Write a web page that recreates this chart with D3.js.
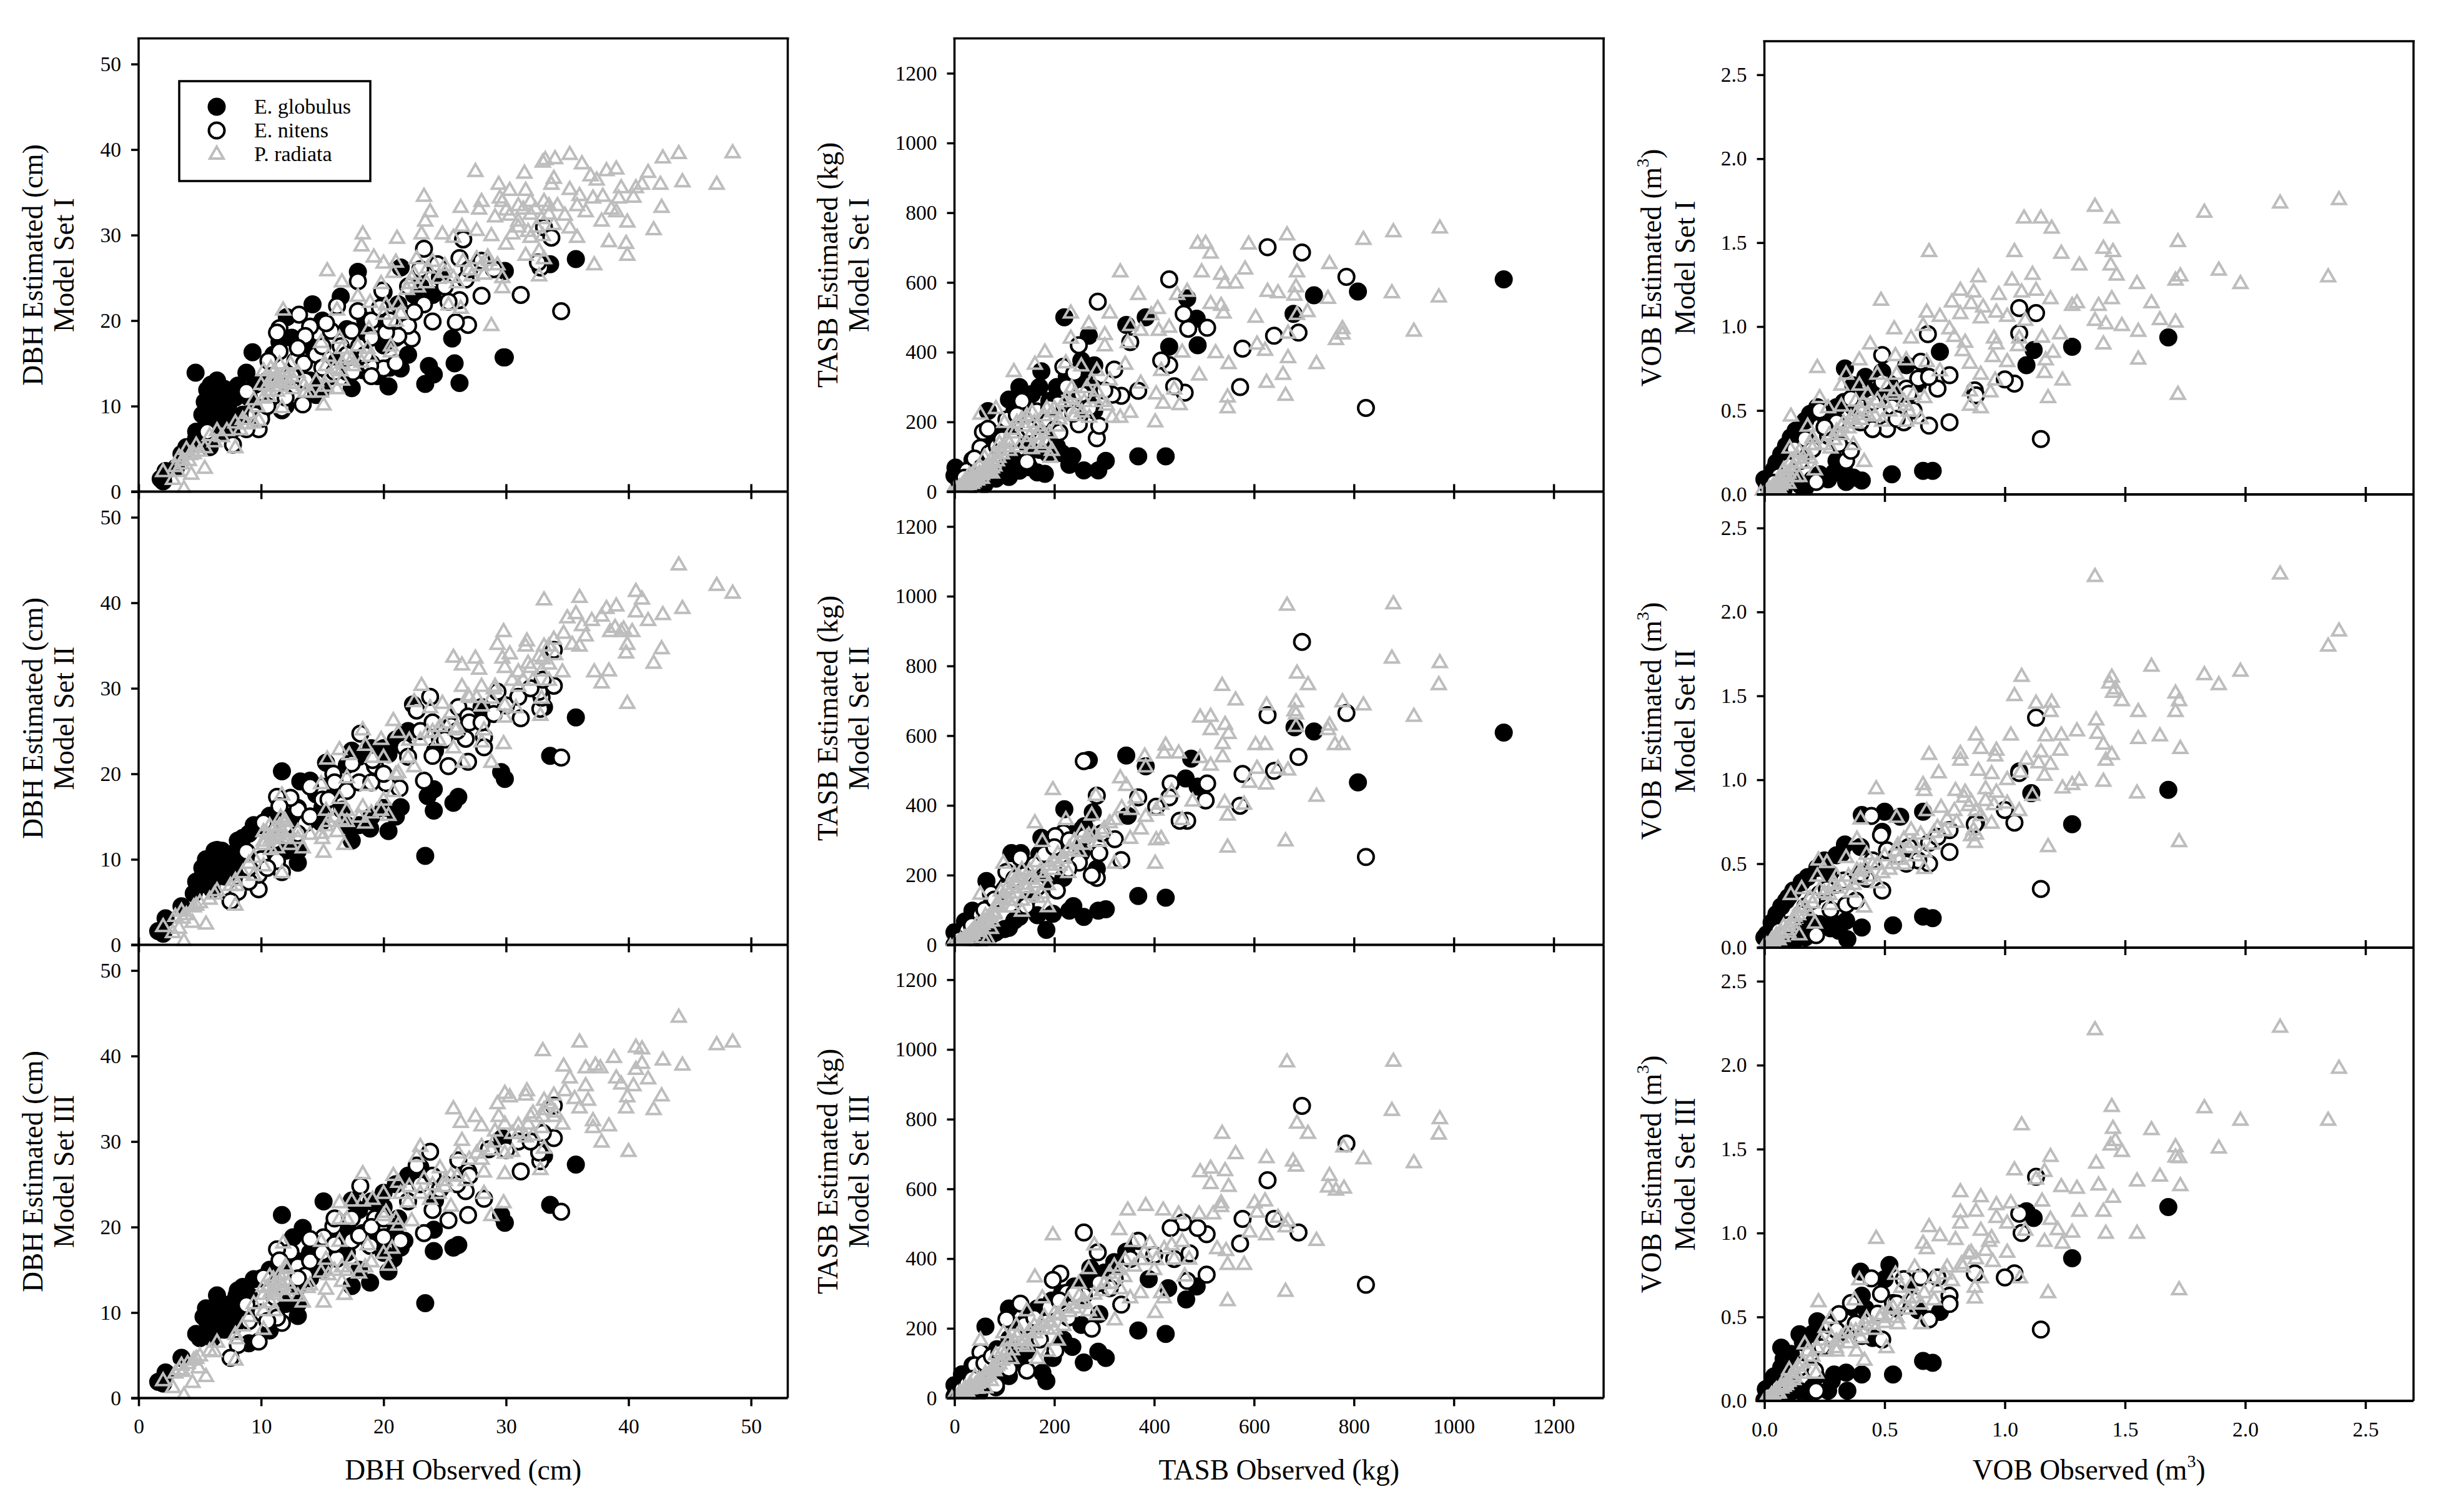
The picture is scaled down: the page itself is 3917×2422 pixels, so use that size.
<!DOCTYPE html>
<html><head><meta charset="utf-8"><script src="https://cdn.jsdelivr.net/npm/d3@7"></script>
<style>html,body{margin:0;padding:0;background:#fff}text{font-family:"Liberation Serif","Times New Roman",serif;fill:#000}</style></head>
<body><svg id="c" width="3917" height="2422"></svg>
<script>
const species=["E. globulus","E. nitens","P. radiata"];
const setNames=["Model Set I","Model Set II","Model Set III"];
const dbhTicks=[0,10,20,30,40,50], tasbTicks=[0,200,400,600,800,1000,1200], vobTicks=[0,0.5,1,1.5,2,2.5];

const dbhGlob1=[[4.65,13.9],[5.6,11.9],[6.4,13],[6,10.6],[6.6,11.7],[6.2,9.5],[7.3,9.9],[6.9,8.8],[8.1,12.4],[7.9,11],[4.7,7],[4.7,6.2],[3.5,4.4],[3.9,5.2],[5.8,5.2],[2,1.2],[1.8,1.5],[2.2,2.4],[3.05,2.8],[9.3,16.3],[8.8,13.9],[11.5,17.5],[12.1,20.4],[14.2,21.9],[16.5,22.8],[17.9,25.7],[17.4,12.1],[20.4,12.3],[21.4,14.4],[23.4,12.6],[23.7,14.7],[24.1,13.7],[25.8,15],[25.6,17.9],[26.2,12.7],[29.8,15.7],[29.9,15.7],[35.7,27.2],[33.6,26.6],[29.9,25.8],[26.5,29.5],[21.4,26.2],[24.6,25.1],[20,23.3],[21.2,21.9],[20,17.1],[18.3,18.6],[18.3,14.2],[16.2,15.3],[14.5,11.3],[11.7,9.5],[7,7],[8,7.5],[5.2,9],[9.5,12.5],[20.5,14.5],[13,17],[5.4,10.5],[5.9,12.5],[6.3,11],[6.8,10.5],[7,12],[7.5,9],[5.5,8.5],[6,8],[6.5,7.5],[7.5,7],[8.5,9],[9,11],[9.5,10],[10,9],[10.5,13],[12,10],[13,14],[14,13],[15,12],[15.5,14],[17,14],[18,16],[19,15],[19.5,13.5],[11,16],[12.5,18],[14,17],[15,20],[17,19],[18.5,20],[20,20],[21,18],[22.5,23],[22,16],[23,24],[24,23]];
const dbhNit1=[[34.5,21.1],[31.2,23],[32.8,26.2],[33.1,30.9],[33.7,29.7],[28,22.9],[26.9,19.5],[25.9,19.8],[26.2,22.4],[24,19.9],[23.3,21.9],[22.3,17.9],[22,19.4],[21.2,18.2],[25.3,22.2],[26.7,24.8],[26.5,29.5],[23.3,28.4],[24.4,26.6],[26.2,27.3],[19.9,23.5],[20.2,18.6],[20,14.4],[18.9,14.7],[17.9,24.6],[17.9,21.1],[17.4,18.8],[16.2,21.7],[15.7,18.8],[15.3,19.7],[14,19.3],[13.6,18.2],[13.1,20.7],[11.5,19.1],[11.3,18.6],[11.5,16.4],[12.8,15.3],[13,16.8],[10.6,15.3],[8.8,11.7],[13.4,10.2],[13.6,13],[15.7,13.5],[11.7,9.7],[9.8,7.3],[8.8,7.3],[5.6,7],[7.7,5.5],[19,20],[19.7,21.5],[32.6,26.8],[9.5,9],[10,8.5],[10.5,10],[12,11],[12.5,13.5],[13.5,15],[14.5,16],[15,17],[16.5,17],[17,16],[18,17],[19,18],[18.5,16],[15,14.5],[16,14],[17.5,14],[19,13.5],[21,15],[20.5,20],[21.5,21],[22.5,21],[22,24],[23,26],[25,24],[27,26],[28,27],[29,26]];
const dbhRad1=[[48.5,39.7],[47.2,36],[44.4,36.3],[44.1,39.6],[42.8,39.1],[42.7,33.3],[42.6,36],[42.05,30.7],[41.6,37.4],[41.1,36],[40.6,35.6],[40.4,34.5],[39.9,27.7],[39.8,29.1],[39.9,31.6],[39.4,35.6],[39,37.8],[38.4,29.3],[38.2,37.6],[37.8,31.7],[37.2,26.6],[37.4,36.5],[36.9,37],[36.2,38.4],[35.2,39.5],[34,39],[33.2,38.9],[33,38.6],[31.5,37.3],[27.5,37.5],[29.4,36],[30.3,35.3],[31.6,35.3],[33.9,36.7],[33.7,36],[35.2,35.4],[36,34.7],[37.1,34.4],[37.9,34.6],[39.2,34.4],[38.6,33.1],[39,32.8],[35.8,33.5],[36.5,32.8],[34.8,32.4],[35.2,30.9],[35.8,29.8],[23.3,34.6],[23.8,32.8],[26.3,33.3],[27.8,33.1],[28,34],[29.7,34],[29.5,34.4],[32,34],[33.1,34],[31.4,33.1],[32.4,33.1],[33.5,33.5],[29.1,32.2],[30.3,32.4],[31,31.7],[32.9,32],[33.9,31.3],[32,29.8],[30.5,30.2],[32.7,28.2],[31.6,27.7],[32.7,25.3],[33.1,27.3],[23.4,31.7],[23.1,30.2],[26.4,31.1],[27.6,30.6],[28.8,30],[24.8,30.2],[25.7,29.8],[21.1,29.7],[18.3,30.2],[18.2,28.8],[19.2,27.5],[20,26.8],[21,26.9],[22.7,27.3],[23.6,26.2],[25,25.7],[25.7,25.1],[27.6,27.3],[28.6,27.1],[29.3,26.6],[28.2,25.5],[27.2,25.3],[29.7,25.1],[29.7,23.9],[28.8,19.5],[26.3,21.5],[25.3,21.9],[20.8,25.7],[22.1,24.4],[21.9,23.7],[15.4,25.9],[16.6,24.6],[17.9,22.9],[19.8,24.4],[18.9,22.2],[20.2,21.9],[21.2,22],[21.4,20.9],[20,20.8],[21,20],[18.8,19.1],[11.8,21.3],[16.2,21.3],[14.9,17.5],[16.4,18],[17.9,17.1],[18.7,16.8],[20.6,17.1],[20.6,16.4],[18.9,15.9],[17.4,15.5],[16.6,16.8],[15.5,15.9],[15.3,14.8],[16.6,15.1],[17,15.7],[15.3,12.4],[16.6,13.1],[15.1,10.2],[14,11.7],[14.9,11.7],[16.2,12.1],[12.4,15],[11.1,14.2],[10.2,14.2],[11.7,13.5],[10.9,13],[10,12.6],[11.5,12.4],[10.7,11.9],[9.4,10.8],[12.6,12.1],[13.6,11.7],[11.7,9.9],[9,9.2],[9.8,8.4],[9.4,8.1],[7.9,8.1],[8.3,7.3],[7.9,5.2],[6.4,7.2],[5.8,6.6],[6.2,5.9],[4.7,5.5],[5.4,5.2],[3.9,5],[3.3,4.1],[4.1,3.7],[5.4,2.8],[4.3,2.1],[2,2.4],[2.8,1.5],[3.7,0.4],[3.5,3.3],[10.5,12.5],[10.8,13.2],[11,12.8],[11.2,13.4],[11.4,13],[11.6,12.8],[11.9,13],[12.1,13.3],[12,14],[12.3,12.7],[11.3,11.8],[10.6,11.2],[10.2,11],[9.7,10],[10.8,14.5],[11.5,15],[12.5,13.5],[13,14],[13.5,12.5],[14.5,13],[15.5,13.5],[16,14.5],[17.5,14.8],[18.2,15.2],[16.5,14.2],[8.5,8.5],[8.8,8],[6.8,6.5],[7.2,7.2],[4.5,4.5],[5,4.8],[4.2,4.4],[3.6,3.8],[3,3],[3.2,2.4],[22.5,25.5],[23.5,24.5],[24.5,25],[24,27],[25,26.5],[26.5,27],[26,24.5],[27,26],[28,26.5],[28.5,27.5],[22.8,24],[22.3,25],[30,29],[31,31],[31.8,30.5],[32.5,31],[33,30],[33.5,32.5],[34.2,33.5],[32,32.5],[31,33.5],[30,33]];

const dbhGlob2=[[23.4,10.4],[35.7,26.6],[33.6,22.1],[29.9,19.4],[29.6,20.2],[11.7,20.3],[15.3,21.3],[26.1,17.3],[25.7,16.6],[24.1,15.7],[24.1,18.2],[23.6,17.4],[21.4,16.1],[20.4,13.3],[18.9,13.6],[17.4,12.2],[13,9.6],[14,19.2],[13.2,19.1],[9.4,14],[8.1,12.2],[6.4,11.1],[5.8,10],[6.9,10],[5.6,8.9],[6.6,8.9],[4.7,7.4],[6,7.4],[4.5,6],[3.5,4.5],[2.2,3.1],[1.6,1.6],[2,1.3],[22.4,28.1],[10.7,15.1],[12.4,14.7],[14.5,17.6],[17.4,22.7],[21.7,24.5],[20.4,22.3],[24.2,22.7],[28,27.8],[33.1,27.8],[14.9,14.3],[16.6,15.8],[9,10],[10.7,10.3],[7.9,8.5],[7.3,9.2],[5.2,8],[8.3,10.5],[6,9],[6.5,10],[7,9],[5.2,9],[5.5,10],[6.2,11],[6.8,11],[7.5,10],[8,11],[8.5,12.5],[9,13],[8,9],[7,8],[6,6.5],[5,7],[10,14],[11,15],[12,15],[13,16],[14,15],[15,16],[16,18],[15,18.5],[17,21],[18,22],[19,23],[20,23],[21,24],[22,25],[17,14],[18,14],[19,15],[20,16],[21,15],[12,11],[13,11]];
const dbhNit2=[[34.5,21.9],[31.2,26.5],[32.8,27.6],[32.9,28.9],[33.9,30.3],[33.9,34.5],[23.8,29],[22.7,27.4],[26.1,27.8],[26.9,26.7],[28.2,24.3],[28.2,23.1],[26.9,21.4],[25.3,20.9],[24,22.1],[23.3,19.2],[21.3,18.3],[20.2,18.9],[18.1,24.7],[17.4,21.2],[19.3,20.9],[15.9,20],[14.9,18.5],[14,18.5],[13,15.8],[12.4,17.2],[11.3,17.3],[11.5,16.2],[13.6,14.2],[8.8,10.9],[11.7,8.5],[11.3,9.8],[9.8,6.5],[8.1,6.2],[7.5,5.1],[24.6,24.1],[25.5,25.6],[26.7,24.1],[29.3,29.6],[32.7,29.6],[19.1,21.6],[21.7,23.1],[10.2,14.3],[11.1,12.2],[9.8,8.2],[9,7.4],[12,14],[13,13],[14,15],[15,17],[16,19],[15.5,17],[17,18],[18,19],[19,19],[20,20],[22,22],[23,25],[24,26],[25,24],[26,25],[27,26],[28,26],[29,27],[30,28],[31,29],[32,30],[33,31],[10,10],[10.5,9],[9,9]];
const dbhRad2=[[48.5,41.2],[47.2,42.1],[44.4,39.4],[44.1,44.5],[42.8,38.7],[42.7,34.7],[42.05,33],[41.6,38],[41.1,40.5],[40.6,41.4],[40.6,39],[39.9,28.3],[39.8,34.2],[39.9,35.2],[39.4,36.7],[39,39.7],[38.4,32.1],[38.2,39.4],[37.8,30.7],[37.2,32],[40.3,36.7],[39.6,37],[38.9,37.2],[38.5,36.7],[37.8,38.5],[37,38],[36.5,36.2],[36.2,37.4],[35.7,38.8],[35,38.3],[34.7,36.5],[35.4,35.2],[36,35],[33.1,40.4],[36,40.7],[29.8,36.7],[29.3,35.2],[30.3,34.1],[25.7,33.7],[27.5,33.6],[26.4,32.8],[27.8,32.3],[29.7,33.6],[29.9,32.5],[31.7,35.6],[31.6,35],[33.1,35],[33.9,35.8],[31.8,33],[32.7,33.8],[33.5,32.9],[34.6,32],[32.9,32.1],[31.4,31],[32.2,31],[31,30.3],[33.5,31],[32.9,28.9],[32.8,26.9],[23.1,30.4],[22.5,28.5],[23.8,27.8],[26.4,30.3],[28,30.3],[26.9,29.2],[29.1,30.3],[27.6,29],[28.8,28.9],[29.9,28.1],[30.8,27.8],[29.9,26.7],[24.8,28.3],[25.5,27.2],[20.8,26.3],[18.3,25.2],[21.2,24.9],[19.8,24.1],[22.1,24],[23.6,24.9],[24.6,25.6],[25.9,25.2],[28.2,25.2],[28,23.8],[29.8,23.6],[28.8,21.4],[25.7,23.1],[26.5,21.4],[18.5,23.4],[16.4,22.9],[17.2,22.3],[15.4,21.8],[20,22],[19.1,22],[22.5,20.9],[21.2,20.2],[20.8,18],[14.9,18.9],[17,19.6],[18.7,18.7],[11.7,17.6],[16.4,17.2],[15.3,15.8],[17,15.8],[18.3,16.2],[19.8,15.8],[20.4,15.2],[18.5,14.3],[16.6,14.7],[15.3,14],[14.9,13.1],[16.2,13.3],[16.8,11.8],[15.1,10.9],[13.4,11.4],[11.9,14.7],[13,13.3],[10.7,14],[10.2,13.3],[11.5,12.9],[10.2,11.8],[11.3,11.4],[12.4,11.8],[9.4,10.3],[9,9.6],[10.2,9.3],[11.7,8.5],[9.4,8.2],[7.9,7.6],[7.9,4.7],[6.4,6.4],[5.8,5.4],[4.7,4.7],[5.5,2.5],[3.5,4],[3.9,3.6],[3,3.4],[4.4,2.7],[2,2.2],[2.8,1.5],[3.3,2],[3.7,0.5],[10.5,13],[10.8,12.5],[11,13.5],[11.2,12.8],[11.5,14],[11.8,13.2],[12,14.5],[12.2,13.5],[10.2,12.2],[10.8,11.2],[11.6,15],[12,12.5],[13,12.5],[14,13],[15,12.5],[15.5,14.5],[16,15],[17,14.5],[18,15],[19,15.5],[20,17],[21,20],[22,22],[23,24],[24,25],[24.5,24],[25,26],[26,25.5],[27,29],[28,28],[29,30],[30.5,31],[31,32],[32,32.5],[33,33.5],[34,34],[33.5,35],[8.5,8.5],[8,7],[7.5,7],[6.2,6],[5,5],[4.5,4.5],[3.6,3.2]];

const dbhGlob3=[[23.4,11.1],[35.7,27.3],[33.6,22.6],[29.9,20.5],[29.6,21.4],[11.7,21.4],[15.1,23],[26.1,17.9],[25.7,17.6],[24.1,17.2],[24.1,19.7],[21.4,17.6],[20.4,14.8],[18.9,13.5],[17.4,13.1],[13,9.6],[13.4,19.9],[12.6,18.8],[9.4,13.9],[8.1,12.6],[6.4,12],[5.8,10.3],[6.9,9.8],[5.6,9],[6.6,9],[4.7,7.5],[6,8.1],[3.5,4.7],[2.2,3],[1.6,1.9],[2,1.7],[22.5,25.9],[10.7,15],[14.5,16.3],[17.4,23.1],[21.2,21],[20,22.3],[24.2,23.1],[29.7,30.4],[33.1,28.3],[14.9,15.8],[16.6,18.8],[18.3,19.3],[20.8,16.3],[9,6.4],[10.7,7.9],[7.9,8.6],[21.7,18.4],[7.3,10.5],[8.5,11.5],[6,10],[6.5,11],[7,10],[5.3,9.5],[5.5,10.5],[7.5,11],[8,12],[8.5,13],[9,12],[8,10],[7.5,9],[7,8],[6,7],[5,7],[10,14],[11,15],[12,15],[13,16],[14,17],[15,18],[16,19],[15,15],[13,13],[14,14],[17,20],[18,22],[19,23],[20,24],[21,25],[22,26],[23,27],[17,17],[19,18],[18,15],[20,17],[21,20],[12,11],[13,11]];
const dbhNit3=[[34.5,21.8],[31.2,26.5],[32.8,27.7],[32.9,28.7],[33.9,30.4],[33.9,34.2],[23.8,28.8],[22.7,27.2],[26.1,27.8],[26.9,26.5],[28.2,23.3],[26.9,21.4],[25.3,20.8],[24,22],[23.3,19.3],[21.3,18.4],[20.2,18.8],[18.1,24.8],[17.4,21],[19.3,21],[15.9,20.1],[15.1,18.8],[14,18.6],[13,15.4],[12.4,17.1],[11.3,17.4],[11.5,16.1],[13.6,14.3],[8.8,10.9],[11.7,8.8],[11.3,9.4],[9.8,6.6],[8.1,6.2],[7.5,4.7],[24.6,24.4],[26.7,24.2],[10.2,14.1],[17.4,18.4],[16.2,16.3],[18.9,17.8],[11.1,11.8],[20,18.8],[21.4,18.4],[32.7,28.7],[28.6,29.1],[12,14],[13,14],[14,16],[15,17],[16,18],[18,19],[19,20],[20,21],[22,23],[23,25],[24,26],[25,25],[26,25],[27,26],[30,29],[31,30],[32,30],[33,31],[10,10],[10.5,9],[9,9],[16,21]];
const dbhRad3=[[48.5,41.7],[47.2,41.4],[44.4,39],[44.1,44.6],[42.8,39.6],[42.7,35.4],[42.05,33.8],[41.6,37.4],[41.1,40.9],[40.6,41.1],[41.1,39.2],[40.6,38.5],[38.8,39.9],[37.3,39],[37.7,38.7],[36.5,38.7],[36,41.7],[34.7,38.9],[33,40.7],[35.2,37.5],[36.5,36.6],[39,37.5],[39.4,36.8],[40.4,36.6],[39.9,35.3],[39.8,34],[40,28.9],[37.1,32.5],[38.4,31.9],[37.1,31.7],[37.8,30],[36.7,34.9],[35.6,35.1],[36,34],[34.8,36],[33.9,35.5],[34.6,32.1],[33.9,33],[31.7,36],[31.6,35.5],[29.9,35.7],[30.3,35.3],[29.3,34.5],[25.7,33.9],[26.3,32.3],[27.5,33],[28,31.9],[29.4,33],[29.9,32.1],[33.1,34.9],[33.1,33.8],[32.2,33.4],[31.8,32.1],[31,31],[32.9,31.7],[32.2,30.8],[31.6,30.6],[33.1,29.3],[32.8,26.8],[26.4,30.2],[29.1,31.3],[28,29.5],[28.8,29.1],[29.9,28.7],[30.5,28.9],[29.9,26.3],[27.6,28.7],[28.2,26.5],[28.2,24],[28.8,21.4],[29.8,22.9],[23,29.5],[22.7,28.3],[26.1,28.7],[18.3,26.3],[20.8,26.1],[21.2,25.3],[22.1,24.8],[23.3,25.7],[24.6,27],[25.5,26.1],[26.7,25.5],[25,24.8],[23.8,23.3],[25.5,22.5],[21.4,24],[20,24],[19.1,23.3],[18.3,23.1],[16.4,22.9],[17.4,23.1],[20.2,21.8],[17,21],[16.4,21],[22.3,20.8],[21.2,20.3],[20,21.4],[14.9,18.4],[16.4,18.4],[11.8,18.2],[18.7,18],[20.7,17.6],[15.3,16.3],[17.4,16.3],[16.6,15.4],[18.5,15.4],[20.4,15.6],[14.9,14.8],[16.6,13.7],[15.3,12.8],[16.8,12.2],[15.1,11.3],[13.4,11.3],[14,13.3],[12.1,15.2],[10.7,14.3],[11.5,13.7],[10.2,13.1],[12.4,12.8],[11.1,12.2],[9.4,11.1],[9,9.6],[10.2,10.3],[11.1,10.3],[10.2,8.1],[7.9,7.5],[7.9,4.5],[6.4,6.6],[5.8,5.6],[4.7,4.7],[5.5,2.6],[3.5,3.9],[4,4.1],[4.4,1.9],[3,3],[2,2.1],[2.8,1.3],[3.7,0.4],[3.3,3.4],[4.9,3.6],[10.5,13],[10.8,12.5],[11,14],[11.2,12.8],[11.5,14.5],[11.8,13.2],[12,15.5],[12.2,13.5],[10.2,12.2],[10.8,11.2],[12,12],[13,12],[13.8,13],[15.5,14.5],[16,15],[17,15],[18,14.7],[19,16],[20,17],[21,21],[22,23],[23,24],[24,25],[24.5,24],[25,25.5],[26,26],[27,28],[28,28],[29,30],[30.5,31],[31,32],[32,33],[33,33],[34,33.5],[33.5,34.5],[8.5,8.5],[8,7],[6.2,5.5],[5,5],[4.5,4.5],[3.6,3.2]];

const tasbGlob1=[[1100,609],[808,574],[720,563],[679,510],[423,101],[368,101],[303,88],[288,61],[259,61],[236,102],[230,77],[181,51],[166,55],[187,109],[140,82],[109,42],[83,37],[2,69],[0,46],[36,91],[220,500],[67,231],[109,264],[130,300],[174,345],[254,376],[280,362],[280,296],[280,233],[269,447],[344,478],[383,500],[430,416],[466,554],[485,496],[487,420],[197,153],[166,162],[238,296],[145,135],[60,20],[30,10],[95,60],[120,90],[15,30],[25,45],[40,70],[50,90],[65,110],[75,130],[90,165],[105,190],[120,230],[140,260],[155,280],[170,300],[190,260],[205,300],[225,330],[245,310],[260,330],[270,250],[250,215],[170,120],[205,130],[215,110],[130,60],[150,70],[100,70],[90,50],[70,40],[50,30]];
const tasbNit1=[[824,240],[785,616],[696,686],[627,701],[689,456],[640,447],[577,410],[572,300],[430,609],[287,545],[506,470],[468,467],[459,510],[461,284],[440,302],[430,363],[414,376],[368,289],[334,275],[316,278],[285,153],[290,189],[249,193],[218,358],[249,420],[57,171],[67,180],[145,86],[207,251],[187,207],[135,260],[104,207],[52,126],[352,429],[238,224],[202,180],[25,60],[40,95],[70,110],[85,130],[95,150],[115,150],[125,220],[150,180],[165,230],[175,150],[190,240],[210,170],[225,300],[240,340],[255,280],[270,240],[300,290],[320,350],[10,25],[20,40],[55,70]];
const tasbRad1=[[972,758],[879,747],[819,725],[666,738],[589,712],[487,714],[503,714],[513,686],[751,656],[686,632],[582,640],[534,625],[495,632],[541,600],[563,600],[332,632],[368,567],[311,514],[233,514],[269,483],[466,576],[446,567],[407,527],[627,576],[648,572],[681,565],[684,589],[876,572],[970,560],[748,556],[707,518],[686,510],[603,502],[513,541],[534,536],[539,514],[920,462],[777,469],[777,454],[764,438],[668,456],[606,425],[622,407],[523,400],[549,369],[725,369],[668,386],[658,338],[625,315],[490,336],[663,278],[547,273],[547,242],[402,202],[451,251],[352,229],[316,215],[332,215],[440,296],[404,282],[418,255],[373,313],[414,349],[342,367],[311,322],[181,402],[119,346],[52,224],[233,442],[161,367],[301,452],[352,478],[347,429],[373,464],[394,509],[409,464],[430,473],[456,402],[301,420],[254,362],[285,349],[223,371],[192,100],[83,240],[100,200],[120,170],[140,190],[160,200],[180,220],[200,240],[220,260],[240,280],[260,260],[280,270],[150,160],[130,130],[110,120],[90,140],[170,140],[190,170],[210,210],[240,220],[270,215],[80,110],[60,100],[70,80],[50,75],[40,60],[30,50],[20,30],[10,15],[0,0],[-8,-5],[35,25],[55,40],[75,55],[45,35],[65,65],[25,40],[15,20],[5,8],[5,5],[10,10],[12,8],[15,14],[18,15],[20,20],[22,18],[25,25],[28,22],[30,30],[33,28],[35,35],[38,30],[40,40],[42,36],[45,45],[48,40],[50,55],[55,50],[58,60],[60,55],[62,70],[65,65],[68,60],[70,75],[75,70],[78,85],[80,75],[85,90],[88,100],[90,120],[95,110],[100,130],[105,150],[110,140],[115,180],[125,200],[135,210],[145,220],[155,230],[165,190],[175,180],[185,240],[195,230],[205,190],[215,225],[225,270],[235,300],[245,240],[255,230],[265,300],[275,320],[285,290],[295,260],[305,250],[145,140],[155,125],[165,165],[175,130],[185,140],[195,120]];

const tasbGlob2=[[1100,609],[808,466],[720,612],[681,624],[423,135],[368,140],[303,102],[288,98],[259,80],[238,111],[230,98],[184,43],[197,89],[166,85],[130,80],[109,49],[83,36],[0,36],[21,67],[36,98],[220,389],[277,380],[64,183],[114,263],[133,263],[174,307],[254,330],[344,543],[383,512],[474,534],[463,477],[487,454],[347,370],[269,530],[285,218],[218,192],[176,183],[145,129],[254,263],[187,174],[55,15],[0,0],[10,20],[30,55],[45,75],[60,95],[75,120],[90,140],[105,170],[125,200],[150,220],[170,260],[190,290],[215,300],[240,320],[260,340],[15,5],[35,10],[75,30],[100,45],[120,70]];
const tasbNit2=[[824,252],[696,869],[785,665],[627,659],[689,539],[640,499],[577,490],[572,399],[259,527],[285,428],[506,463],[503,414],[466,356],[451,356],[433,463],[430,423],[368,423],[334,243],[321,303],[285,192],[275,200],[218,321],[202,312],[143,111],[132,249],[205,156],[249,236],[290,263],[104,209],[73,147],[52,85],[166,165],[228,218],[404,396],[25,40],[60,100],[80,130],[100,160],[120,190],[140,200],[160,230],[180,260],[200,280],[230,300],[260,310],[295,320],[10,15],[35,55]];
const tasbRad2=[[972,811],[879,980],[819,690],[666,976],[876,824],[970,748],[920,657],[686,781],[708,748],[536,746],[563,704],[492,655],[513,657],[542,634],[513,619],[549,608],[537,579],[603,576],[622,576],[625,690],[684,699],[681,673],[684,664],[684,628],[751,632],[748,619],[762,576],[777,576],[777,699],[537,541],[513,517],[492,539],[423,575],[420,552],[449,552],[381,543],[383,512],[332,481],[344,459],[606,508],[591,468],[624,463],[648,508],[668,503],[725,428],[541,410],[580,405],[547,374],[547,282],[663,300],[402,236],[404,303],[414,307],[197,447],[283,430],[161,352],[223,361],[98,236],[52,147],[275,374],[321,361],[363,423],[352,307],[373,334],[414,405],[435,441],[456,361],[477,414],[404,388],[383,370],[311,352],[254,325],[269,316],[290,298],[176,298],[207,263],[238,272],[135,218],[155,192],[187,174],[197,218],[228,209],[119,183],[145,165],[93,156],[109,129],[166,138],[187,111],[135,98],[62,85],[73,49],[41,49],[21,22],[5,4],[31,31],[57,22],[67,18],[321,236],[165,240],[85,110],[105,165],[125,150],[150,215],[215,250],[245,290],[265,310],[295,325],[335,395],[355,390],[0,0],[-8,-4],[12,14],[45,62],[80,95],[35,40],[75,70],[3,3],[8,8],[12,13],[16,15],[20,20],[24,22],[28,28],[32,35],[36,33],[40,42],[44,40],[48,52],[52,55],[56,60],[60,70],[64,65],[68,80],[72,85],[76,95],[80,90],[85,120],[90,115],[95,135],[100,140],[110,150],[115,165],[120,205],[125,175],[130,195],[140,175],[150,190],[160,180],[170,210],[180,200],[190,230],[200,240],[210,230],[220,250],[230,280],[240,300],[250,270],[260,290],[280,320],[300,335],[155,145],[175,150],[115,110],[135,130]];

const tasbGlob3=[[423,184],[368,194],[303,115],[288,133],[259,102],[236,147],[184,49],[485,320],[464,283],[428,315],[389,341],[62,205],[109,257],[272,373],[344,420],[368,451],[166,257],[176,73],[197,115],[145,136],[109,63],[41,21],[0,37],[15,68],[36,94],[290,241],[254,210],[218,168],[124,136],[98,73],[83,31],[0,5],[8,15],[15,30],[25,45],[45,75],[55,95],[70,115],[85,140],[110,170],[125,205],[140,215],[155,240],[175,260],[195,280],[215,300],[240,320],[265,340],[300,360],[320,390],[20,5],[50,15],[80,60],[130,110]];
const tasbNit3=[[824,325],[696,838],[785,730],[627,625],[689,475],[640,514],[577,514],[572,443],[259,475],[287,418],[212,357],[197,339],[225,302],[132,271],[104,226],[505,354],[505,470],[487,488],[458,504],[433,488],[440,399],[471,415],[466,336],[334,268],[321,341],[368,451],[275,199],[202,136],[145,79],[52,131],[41,94],[109,84],[171,168],[259,294],[352,399],[83,37],[228,231],[311,315],[15,25],[25,40],[35,55],[60,100],[75,120],[90,130],[120,180],[140,210],[160,230],[190,260],[210,280],[240,300],[290,330],[400,410]];
const tasbRad3=[[879,968],[666,966],[876,827],[972,803],[970,759],[686,790],[708,761],[536,761],[563,703],[779,722],[819,688],[920,677],[625,691],[678,682],[684,667],[492,651],[513,661],[542,654],[513,617],[549,609],[751,640],[748,607],[764,598],[780,604],[601,562],[622,567],[606,535],[534,562],[534,551],[518,530],[383,554],[347,541],[418,541],[449,530],[490,530],[648,520],[668,509],[663,493],[591,478],[624,470],[330,485],[280,441],[197,470],[544,425],[526,430],[547,385],[580,385],[725,454],[663,308],[547,281],[402,247],[321,226],[161,349],[414,304],[419,289],[373,304],[352,289],[332,315],[311,331],[357,451],[391,446],[435,441],[456,451],[404,399],[373,399],[342,399],[461,352],[269,373],[249,331],[228,283],[269,252],[285,241],[254,273],[207,241],[176,289],[145,252],[207,168],[187,136],[166,115],[124,210],[98,189],[52,168],[114,115],[83,126],[135,157],[161,189],[187,199],[218,210],[62,73],[73,52],[31,42],[10,16],[41,63],[52,47],[21,31],[-5,0],[62,31],[110,170],[130,190],[155,165],[175,215],[200,200],[240,260],[300,330],[330,370],[380,420],[25,20],[45,30],[80,90],[95,135],[3,3],[8,6],[12,12],[16,14],[20,18],[25,22],[30,28],[35,34],[38,30],[42,40],[46,44],[50,55],[55,50],[60,60],[65,65],[70,70],[75,85],[80,80],[85,95],[90,100],[95,110],[100,125],[105,140],[115,140],[120,165],[125,180],[140,170],[145,150],[150,195],[160,210],[170,200],[180,235],[190,220],[200,245],[210,240],[220,260],[230,250],[250,295],[260,280],[280,300],[295,310],[310,360],[320,380],[340,350],[360,380],[400,370],[420,430],[440,400],[470,400]];

const vobGlob1=[[1.68,0.935],[1.28,0.88],[1.12,0.86],[1.09,0.77],[0.73,0.85],[0.7,0.14],[0.66,0.14],[0.53,0.12],[0.405,0.083],[0.34,0.074],[0.335,0.75],[0.59,0.77],[0.49,0.73],[0.52,0.66],[0.64,0.66],[0.39,0.59],[0.33,0.55],[0.22,0.52],[0.17,0.44],[0.11,0.34],[0.07,0.24],[0,0.09],[0.29,0.13],[0.33,0.15],[0.23,0.12],[0.17,0.04],[0.265,0.09],[0.15,0.055],[0.04,0.15],[0.28,0.43],[0.45,0.39],[0.37,0.65],[0.45,0.61],[0.01,0.06],[0.03,0.12],[0.05,0.19],[0.09,0.29],[0.13,0.38],[0.19,0.48],[0.25,0.47],[0.3,0.52],[0.37,0.52],[0.42,0.7],[0.5,0.6],[0.57,0.6],[0.12,0.1],[0.2,0.09],[0.08,0.03],[0.03,0.03],[0.3,0.2],[0.37,0.1],[0.06,0.01]];
const vobNit1=[[1.15,0.33],[1.06,1.11],[1.13,1.08],[1.06,0.96],[1.04,0.66],[1,0.685],[0.875,0.62],[0.77,0.43],[0.685,0.41],[0.77,0.71],[0.72,0.63],[0.68,0.955],[0.49,0.83],[0.65,0.79],[0.64,0.69],[0.685,0.7],[0.215,0.074],[0.34,0.2],[0.51,0.39],[0.58,0.43],[0.45,0.39],[0.36,0.26],[0.125,0.27],[0.17,0.33],[0.265,0.35],[0.49,0.67],[0.59,0.63],[0.3,0.43],[0.1,0.17],[0.06,0.11],[0.405,0.52],[0.23,0.5],[0.36,0.57],[0.88,0.59],[0.15,0.2],[0.2,0.27],[0.25,0.4],[0.31,0.3],[0.4,0.43],[0.45,0.55],[0.53,0.52],[0.55,0.45],[0.6,0.6],[0.62,0.5],[0.02,0.04],[0.04,0.07]];
const vobRad1=[[2.39,1.76],[2.145,1.74],[2.345,1.3],[1.89,1.34],[1.98,1.26],[1.83,1.685],[1.375,1.72],[1.445,1.65],[1.08,1.65],[1.15,1.65],[1.195,1.59],[0.685,1.45],[1.04,1.45],[1.235,1.44],[1.41,1.47],[1.45,1.45],[1.31,1.37],[1.44,1.37],[1.465,1.31],[1.72,1.51],[1.73,1.305],[1.71,1.28],[1.55,1.26],[0.89,1.3],[1.03,1.28],[1.115,1.315],[1.07,1.21],[1.13,1.22],[0.815,1.22],[0.87,1.21],[0.975,1.195],[1.19,1.17],[1.445,1.17],[1.28,1.13],[1.3,1.145],[1.39,1.13],[1.61,1.145],[0.485,1.16],[0.78,1.15],[0.86,1.14],[0.91,1.12],[0.675,1.09],[0.73,1.065],[0.815,1.08],[0.965,1.09],[1.01,1.065],[0.9,1.055],[1.085,1.04],[1.375,1.04],[1.42,1.02],[1.487,1.01],[1.645,1.045],[1.71,1.03],[1.555,0.975],[0.54,0.99],[0.66,1.01],[0.77,0.99],[0.61,0.935],[0.79,0.945],[0.835,0.91],[0.955,0.935],[1.06,0.935],[1.155,0.94],[1.23,0.96],[1.41,0.9],[0.965,0.9],[0.825,0.86],[1.055,0.89],[0.44,0.9],[0.545,0.83],[0.95,0.825],[1.2,0.85],[1.17,0.805],[1.555,0.81],[1.01,0.795],[0.855,0.785],[0.395,0.805],[0.59,0.805],[0.675,0.795],[0.22,0.76],[1.165,0.73],[1.24,0.685],[0.34,0.72],[0.9,0.72],[0.96,0.685],[0.73,0.74],[0.32,0.655],[0.47,0.72],[0.395,0.655],[1.18,0.58],[0.94,0.615],[0.855,0.62],[1.72,0.6],[0.855,0.535],[0.9,0.52],[0.665,0.58],[0.535,0.6],[0.59,0.535],[0.47,0.565],[0.23,0.58],[0.265,0.52],[0.32,0.53],[0.11,0.47],[0.405,0.5],[0.36,0.46],[0.49,0.44],[0.59,0.44],[0.65,0.455],[0.18,0.41],[0.32,0.41],[0.415,0.2],[0.21,0.15],[0.275,0.28],[0.21,0.3],[0.145,0.26],[0.105,0.28],[0.37,0.3],[0.19,0.22],[0.08,0.15],[0.125,0.11],[0.06,0.09],[0.04,0.055],[0.02,0.04],[-0.015,0.01],[0.1,0.07],[0.08,0.075],[0.06,0.045],[0.145,0.11],[0.3,0.38],[0.38,0.48],[0.44,0.52],[0.52,0.5],[0.6,0.5],[0,0],[0.01,0.02],[0.015,0.01],[0.02,0.03],[0.03,0.03],[0.035,0.05],[0.04,0.04],[0.05,0.06],[0.05,0.04],[0.06,0.08],[0.065,0.06],[0.07,0.1],[0.075,0.07],[0.08,0.11],[0.09,0.12],[0.09,0.09],[0.1,0.13],[0.11,0.15],[0.12,0.17],[0.11,0.2],[0.13,0.19],[0.14,0.22],[0.16,0.19],[0.17,0.24],[0.19,0.3],[0.2,0.34],[0.25,0.3],[0.27,0.36],[0.29,0.33],[0.32,0.36],[0.33,0.43],[0.35,0.4],[0.38,0.43],[0.4,0.45],[0.41,0.55],[0.43,0.48],[0.46,0.47],[0.5,0.55],[0.51,0.65],[0.55,0.62],[0.58,0.56],[0.62,0.6],[0.55,0.72],[0.43,0.6],[0.38,0.56],[0.04,0.02],[0.02,0.005]];

const vobGlob2=[[1.68,0.94],[1.28,0.735],[1.11,0.92],[0.7,0.176],[0.66,0.185],[0.535,0.133],[0.405,0.12],[0.345,0.05],[0.34,0.16],[0.285,0.15],[0.23,0.14],[0.17,0.06],[0.405,0.79],[0.5,0.81],[0.565,0.78],[0.66,0.81],[0.335,0.615],[0.32,0.56],[0.22,0.475],[0.155,0.39],[0.07,0.245],[0,0.06],[0.04,0.13],[1.06,1.05],[0.88,0.745],[0.49,0.69],[0.1,0.3],[0.265,0.45],[0.125,0.04],[0.275,0.115],[0.01,0.08],[0.03,0.15],[0.05,0.2],[0.09,0.28],[0.12,0.34],[0.18,0.42],[0.25,0.52],[0.3,0.55],[0.4,0.6],[0.06,0.02],[0.1,0.05],[0.2,0.15],[0.31,0.1],[0.15,0.09]];
const vobNit2=[[1.15,0.35],[1.13,1.37],[1.06,1.04],[1.04,0.745],[1,0.82],[0.875,0.735],[0.77,0.57],[0.685,0.5],[0.77,0.7],[0.445,0.785],[0.485,0.67],[0.215,0.074],[0.49,0.34],[0.34,0.255],[0.38,0.28],[0.685,0.625],[0.64,0.52],[0.59,0.5],[0.51,0.58],[0.425,0.41],[0.3,0.375],[0.23,0.32],[0.17,0.245],[0.06,0.1],[0.1,0.135],[0.275,0.225],[0.15,0.2],[0.2,0.28],[0.26,0.35],[0.33,0.4],[0.4,0.44],[0.45,0.52],[0.55,0.55],[0.6,0.6],[0.72,0.66],[0.02,0.03]];
const vobRad2=[[2.145,2.23],[1.375,2.215],[2.39,1.89],[2.345,1.8],[1.98,1.65],[1.61,1.68],[1.83,1.63],[1.89,1.57],[1.07,1.62],[1.04,1.505],[1.445,1.615],[1.435,1.58],[1.46,1.545],[1.45,1.525],[1.487,1.475],[1.71,1.52],[1.725,1.475],[1.71,1.41],[1.555,1.41],[1.13,1.46],[1.195,1.465],[1.19,1.41],[1.38,1.36],[1.385,1.28],[1.41,1.215],[1.3,1.295],[1.235,1.27],[1.17,1.265],[1.555,1.25],[1.645,1.265],[1.73,1.19],[1.025,1.27],[0.88,1.27],[0.685,1.155],[0.815,1.16],[0.815,1.12],[0.9,1.19],[0.965,1.18],[0.96,1.145],[1.15,1.17],[1.23,1.18],[1.445,1.155],[1.42,1.12],[1.09,1.125],[1.14,1.105],[1.19,1.095],[0.89,1.06],[0.945,1.04],[0.725,1.045],[1.065,1.05],[1.165,1.03],[1.01,1.005],[1.31,1],[1.28,0.975],[1.24,0.955],[1.41,0.995],[1.55,0.925],[0.465,0.95],[0.66,0.975],[0.665,0.94],[0.795,0.94],[0.835,0.93],[0.92,0.95],[0.965,0.93],[1.115,0.91],[0.86,0.875],[0.955,0.855],[1.01,0.865],[0.735,0.84],[0.79,0.82],[0.9,0.79],[1.06,0.82],[0.675,0.82],[0.76,0.77],[0.945,0.745],[0.55,0.78],[0.4,0.77],[0.87,0.705],[0.88,0.68],[0.86,0.67],[0.875,0.63],[1.18,0.605],[1.725,0.635],[0.385,0.65],[0.61,0.705],[0.705,0.69],[0.555,0.615],[0.62,0.63],[0.665,0.575],[0.425,0.56],[0.34,0.54],[0.225,0.525],[0.26,0.51],[0.535,0.505],[0.665,0.475],[0.49,0.45],[0.385,0.465],[0.3,0.43],[0.22,0.43],[0.155,0.355],[0.11,0.32],[0.21,0.15],[0.415,0.245],[0.275,0.26],[0.18,0.225],[0.125,0.19],[0.36,0.335],[0.47,0.39],[0.08,0.13],[0.05,0.08],[0.03,0.04],[0.1,0.095],[0.145,0.08],[0,0.015],[0.25,0.33],[0.3,0.36],[0.4,0.41],[0.45,0.5],[0.56,0.53],[0,0],[0.01,0.02],[0.02,0.02],[0.03,0.05],[0.04,0.03],[0.05,0.06],[0.06,0.05],[0.07,0.09],[0.075,0.07],[0.09,0.11],[0.1,0.13],[0.11,0.15],[0.12,0.17],[0.14,0.2],[0.15,0.24],[0.17,0.25],[0.19,0.3],[0.2,0.27],[0.23,0.35],[0.27,0.32],[0.29,0.39],[0.32,0.38],[0.35,0.43],[0.37,0.38],[0.4,0.46],[0.42,0.48],[0.44,0.43],[0.47,0.5],[0.5,0.55],[0.52,0.47],[0.55,0.58],[0.58,0.5],[0.6,0.6],[0.63,0.55],[0.58,0.65],[0.65,0.68],[0.7,0.62],[0.72,0.72],[0.75,0.7],[0.8,0.75],[0.85,0.85],[0.88,0.82],[0.92,0.88],[0.83,0.9]];

const vobGlob3=[[1.68,1.155],[1.28,0.85],[1.12,1.09],[1.09,1.13],[0.7,0.227],[0.66,0.238],[0.535,0.157],[0.405,0.157],[0.345,0.06],[0.34,0.168],[0.265,0.06],[0.29,0.157],[0.146,0.06],[0.08,0.01],[0.52,0.81],[0.4,0.77],[0.5,0.725],[0.73,0.53],[0.64,0.54],[0.07,0.317],[0.146,0.397],[0.22,0.474],[0.07,0.2],[0.006,0.07],[0.405,0.627],[0.31,0.495],[0.45,0.375],[0.04,0.146],[0.215,0.146],[0,0.005],[0.32,0.41],[0.125,0.23],[0.01,0.05],[0.03,0.1],[0.05,0.15],[0.08,0.25],[0.11,0.28],[0.16,0.35],[0.2,0.4],[0.27,0.45],[0.35,0.52],[0.42,0.55],[0.55,0.55],[0.6,0.7],[0.06,0.02],[0.1,0.04],[0.2,0.08],[0.28,0.12],[0.18,0.05]];
const vobNit3=[[1.15,0.425],[1.13,1.335],[1.06,1.115],[1.07,1],[1.04,0.76],[1,0.735],[0.875,0.76],[0.77,0.627],[0.77,0.577],[0.685,0.485],[0.49,0.365],[0.215,0.06],[0.445,0.73],[0.485,0.637],[0.65,0.735],[0.72,0.735],[0.58,0.725],[0.34,0.474],[0.275,0.452],[0.19,0.277],[0.125,0.168],[0.31,0.517],[0.36,0.583],[0.21,0.18],[0.405,0.387],[0.535,0.583],[0.15,0.2],[0.24,0.32],[0.3,0.42],[0.38,0.46],[0.47,0.52],[0.55,0.58],[0.62,0.6],[0.02,0.03],[0.06,0.08],[0.1,0.1]];
const vobRad3=[[2.145,2.23],[1.375,2.215],[2.39,1.985],[2.345,1.675],[1.98,1.675],[1.83,1.75],[1.445,1.757],[1.45,1.627],[1.46,1.555],[1.44,1.528],[1.487,1.489],[1.61,1.62],[1.07,1.648],[1.89,1.51],[1.71,1.517],[1.71,1.456],[1.725,1.452],[1.19,1.46],[1.165,1.37],[1.13,1.325],[1.04,1.38],[1.38,1.42],[1.55,1.314],[1.645,1.343],[1.73,1.286],[1.235,1.28],[1.3,1.27],[1.39,1.29],[1.45,1.216],[0.815,1.25],[0.9,1.22],[0.965,1.172],[1.025,1.183],[1.155,1.194],[1.31,1.133],[1.41,1.133],[0.815,1.129],[0.88,1.133],[0.965,1.096],[0.815,1.063],[1.01,1.063],[1.19,1.085],[1.22,1.024],[1.28,1.009],[1.42,1.002],[1.55,1.002],[0.685,1.041],[0.73,0.987],[0.465,0.972],[0.66,0.943],[0.675,0.91],[0.795,0.965],[0.9,1.02],[0.945,0.976],[1.085,1.02],[1.165,0.954],[1.24,0.943],[0.86,0.889],[1.01,0.889],[0.935,0.954],[0.95,0.834],[0.76,0.801],[0.625,0.801],[0.545,0.758],[0.825,0.801],[1.063,0.736],[0.9,0.736],[0.875,0.681],[0.875,0.616],[0.705,0.736],[0.61,0.692],[0.395,0.725],[0.375,0.605],[1.18,0.648],[1.725,0.666],[0.225,0.594],[0.665,0.648],[0.705,0.605],[0.6,0.616],[0.535,0.561],[0.653,0.463],[0.49,0.517],[0.425,0.496],[0.555,0.463],[0.275,0.496],[0.405,0.43],[0.255,0.441],[0.34,0.408],[0.168,0.343],[0.233,0.365],[0.297,0.321],[0.508,0.321],[0.416,0.245],[0.383,0.3],[0.19,0.245],[0.157,0.168],[0.103,0.19],[0.215,0.168],[0.08,0.124],[0.05,0.07],[0.03,0.037],[0,0.005],[0.125,0.146],[0.07,0.092],[0.3,0.36],[0.36,0.42],[0.45,0.46],[0.5,0.47],[0,0],[0.01,0.015],[0.02,0.02],[0.03,0.04],[0.04,0.03],[0.05,0.05],[0.06,0.05],[0.07,0.08],[0.08,0.09],[0.09,0.1],[0.1,0.12],[0.11,0.15],[0.12,0.13],[0.13,0.17],[0.14,0.21],[0.16,0.23],[0.18,0.3],[0.2,0.27],[0.22,0.32],[0.26,0.3],[0.28,0.38],[0.3,0.3],[0.32,0.38],[0.35,0.35],[0.38,0.42],[0.4,0.38],[0.42,0.46],[0.46,0.43],[0.48,0.5],[0.52,0.55],[0.55,0.5],[0.58,0.58],[0.6,0.55],[0.63,0.62],[0.57,0.68],[0.65,0.58],[0.72,0.68],[0.78,0.72],[0.82,0.82],[0.85,0.88],[0.88,0.85],[0.92,0.9],[0.75,0.76]];

const colsData=[
 {name:"DBH",unit:"(cm)",ticks:dbhTicks,fmt:d3.format("d"),max:53,glob:[dbhGlob1,dbhGlob2,dbhGlob3],nit:[dbhNit1,dbhNit2,dbhNit3],rad:[dbhRad1,dbhRad2,dbhRad3]},
 {name:"TASB",unit:"(kg)",ticks:tasbTicks,fmt:d3.format("d"),max:1300,glob:[tasbGlob1,tasbGlob2,tasbGlob3],nit:[tasbNit1,tasbNit2,tasbNit3],rad:[tasbRad1,tasbRad2,tasbRad3]},
 {name:"VOB",unit:"m3",ticks:vobTicks,fmt:d3.format(".1f"),max:2.7,glob:[vobGlob1,vobGlob2,vobGlob3],nit:[vobNit1,vobNit2,vobNit3],rad:[vobRad1,vobRad2,vobRad3]}
];
// layout
const layout=[
 {left:222,right:1261.5,top:61.5,t1:58,t2:108},
 {left:1528.5,right:2568,top:61.5,t1:1331,t2:1381},
 {left:2825.5,right:3865,top:66,t1:2650,t2:2704}
];
const rowH=726;
const svg=d3.select("#c");
svg.append("rect").attr("width",3917).attr("height",2422).attr("fill","#fff");
const defs=svg.append("defs");
const triPath="M0,-11L11,8L-11,8Z";
const TICK=33.5, TITLE=45.5;

function addUnit(sel,c,prefix){
 if(c.unit==="m3"){
  sel.append("tspan").text(prefix+" (m");
  sel.append("tspan").attr("dy",-16).attr("font-size",TITLE*0.62).text("3");
  sel.append("tspan").attr("dy",16).text(")");
 } else sel.append("tspan").text(prefix+" "+c.unit);
}

colsData.forEach((c,ci)=>{
 const L=layout[ci];
 const x=d3.scaleLinear().domain([0,c.max]).range([L.left,L.right]);
 for(let r=0;r<3;r++){
  const top=L.top+r*rowH,bottom=top+rowH;
  const y=d3.scaleLinear().domain([0,c.max]).range([bottom,top]);
  const g=svg.append("g");
  const cid="clip"+ci+"_"+r;
  defs.append("clipPath").attr("id",cid).append("rect").attr("x",L.left-40).attr("y",top).attr("width",L.right-L.left+60).attr("height",rowH+2);
  const pts=g.append("g").attr("clip-path","url(#"+cid+")");
  pts.selectAll("circle.g").data(c.glob[r]).join("circle").attr("class","g")
   .attr("cx",d=>x(d[0])).attr("cy",d=>y(d[1])).attr("r",14.5).attr("fill","#000");
  pts.selectAll("circle.n").data(c.nit[r]).join("circle").attr("class","n")
   .attr("cx",d=>x(d[0])).attr("cy",d=>y(d[1])).attr("r",12.5).attr("fill","#fff").attr("stroke","#000").attr("stroke-width",4);
  pts.selectAll("path.r").data(c.rad[r]).join("path").attr("class","r").attr("d",triPath)
   .attr("transform",d=>`translate(${x(d[0])},${y(d[1])})`).attr("fill","none").attr("stroke","#bdbdbd").attr("stroke-width",4);
  // axes
  const ay=g.append("g").attr("transform",`translate(${L.left},0)`).call(d3.axisLeft(y).tickValues(c.ticks).tickFormat(c.fmt).tickSize(12).tickPadding(16));
  ay.select(".domain").remove();
  ay.selectAll("line").attr("stroke","#000").attr("stroke-width",3.5);
  ay.selectAll("text").attr("font-size",TICK).attr("font-family","Liberation Serif");
  const ax=g.append("g").attr("transform",`translate(0,${bottom})`).call(d3.axisBottom(x).tickValues(c.ticks).tickFormat(r===2?c.fmt:"").tickSize(r===2?13:11).tickPadding(20));
  ax.select(".domain").remove();
  ax.selectAll("line").attr("stroke","#000").attr("stroke-width",3.5);
  ax.selectAll("text").attr("font-size",TICK).attr("font-family","Liberation Serif");
  if(r<2){ax.selectAll("line").attr("y1",-12).attr("y2",12);}
  // spines
  g.append("line").attr("x1",L.left).attr("x2",L.left).attr("y1",top).attr("y2",bottom).attr("stroke","#000").attr("stroke-width",3.5);
  g.append("line").attr("x1",L.right).attr("x2",L.right).attr("y1",top).attr("y2",bottom).attr("stroke","#000").attr("stroke-width",3.5);
  g.append("line").attr("x1",L.left-12).attr("x2",L.right).attr("y1",bottom).attr("y2",bottom).attr("stroke","#000").attr("stroke-width",4);
  if(r===0)g.append("line").attr("x1",L.left-2).attr("x2",L.right+2).attr("y1",top).attr("y2",top).attr("stroke","#000").attr("stroke-width",3.5);
  // titles
  const cy=(top+bottom)/2;
  const t1=g.append("text").attr("transform",`translate(${L.t1},${cy}) rotate(-90)`).attr("text-anchor","middle").attr("dominant-baseline","middle").attr("font-size",TITLE);
  addUnit(t1,c,c.name+" Estimated");
  g.append("text").attr("transform",`translate(${L.t2},${cy}) rotate(-90)`).attr("text-anchor","middle").attr("dominant-baseline","middle").attr("font-size",TITLE).text(setNames[r]);
  if(r===2){
   const t=g.append("text").attr("x",(L.left+L.right)/2).attr("y",2360).attr("text-anchor","middle").attr("dominant-baseline","middle").attr("font-size",TITLE);
   addUnit(t,c,c.name+" Observed");
  }
 }
});
// legend
const lg=svg.append("g");
lg.append("rect").attr("x",287).attr("y",130).attr("width",306).attr("height",160).attr("fill","#fff").attr("stroke","#000").attr("stroke-width",3.5);
const legY=[171,209,247];
lg.append("circle").attr("cx",347).attr("cy",legY[0]).attr("r",14.5).attr("fill","#000");
lg.append("circle").attr("cx",347).attr("cy",legY[1]).attr("r",12.5).attr("fill","#fff").attr("stroke","#000").attr("stroke-width",4);
lg.append("path").attr("d",triPath).attr("transform",`translate(347,${legY[2]-1})`).attr("fill","none").attr("stroke","#bdbdbd").attr("stroke-width",4);
species.forEach((s,i)=>lg.append("text").attr("x",407).attr("y",legY[i]+11).attr("font-size",34).text(s));
</script></body></html>
